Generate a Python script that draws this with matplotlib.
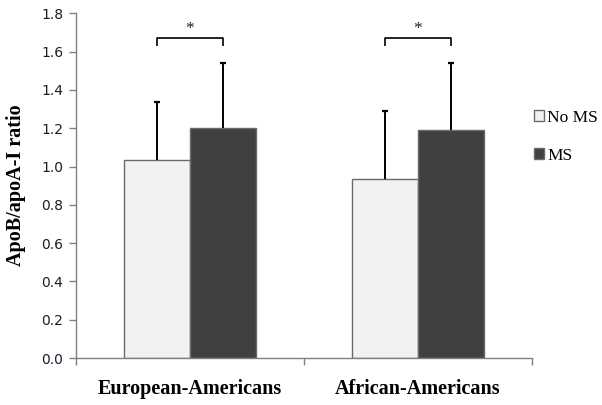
import matplotlib
matplotlib.use("Agg")
import matplotlib.pyplot as plt
import numpy as np

# data
groups = ["European-Americans", "African-Americans"]
series = ["No MS", "MS"]
no_ms_mean = [1.035, 0.935]
no_ms_sd = [0.30, 0.355]
ms_mean = [1.20, 1.19]
ms_sd = [0.34, 0.35]
yticks = [0.0, 0.2, 0.4, 0.6, 0.8, 1.0, 1.2, 1.4, 1.6, 1.8]
bracket_top = [1.67, 1.67]
bracket_leg = [1.63, 1.63]
star_y = [1.72, 1.72]

LIGHT = "#f2f2f2"
DARK = "#404040"
EDGE = "#6a6a6a"
SERIF = ["Liberation Serif", "DejaVu Serif"]

fig = plt.figure(figsize=(6.02, 4.05), dpi=100)
ax = fig.add_axes([76 / 602, 1 - 358 / 405, (532 - 76) / 602, (358 - 13.3) / 405])

x = np.arange(len(groups))
bw = 0.29
cap = 0.013

b1 = ax.bar(x - bw / 2, no_ms_mean, bw, color=LIGHT, edgecolor=EDGE, linewidth=1.0,
            label=series[0], zorder=2)
b2 = ax.bar(x + bw / 2, ms_mean, bw, color=DARK, edgecolor=EDGE, linewidth=1.0,
            label=series[1], zorder=2)

# upper-only error bars
for pos, mean, sd in [(x - bw / 2, no_ms_mean, no_ms_sd), (x + bw / 2, ms_mean, ms_sd)]:
    top = np.array(mean) + np.array(sd)
    ax.vlines(pos, mean, top, color="black", lw=1.4, zorder=3)
    ax.hlines(top, pos - cap, pos + cap, color="black", lw=1.6, zorder=3)

# significance brackets
for i in range(len(groups)):
    xl, xr = x[i] - bw / 2, x[i] + bw / 2
    ax.plot([xl, xl, xr, xr], [bracket_leg[i], bracket_top[i], bracket_top[i], bracket_leg[i]],
            color="black", lw=1.2, solid_capstyle="butt", clip_on=False)
    ax.text(x[i], star_y[i], "*", ha="center", va="center", fontsize=12.5,
            family=SERIF, color="#222222")

ax.set_xlim(-0.5, len(groups) - 0.5)
ax.set_ylim(0, 1.8)
ax.set_yticks(yticks)
ax.set_yticklabels([f"{v:.1f}" for v in yticks], fontsize=10, color="#221a2a")
ax.tick_params(axis="y", length=5, width=1, color="#808080", pad=4)

ax.set_xticks(x)
ax.set_xticklabels(groups, fontsize=14.5, fontweight="bold", family=SERIF)
ax.tick_params(axis="x", which="major", length=0, pad=15)
ax.set_xticks(np.arange(len(groups) + 1) - 0.5, minor=True)
ax.tick_params(axis="x", which="minor", length=5, width=1, color="#808080")

for side in ["top", "right"]:
    ax.spines[side].set_visible(False)
for side in ["left", "bottom"]:
    ax.spines[side].set_color("#808080")
    ax.spines[side].set_linewidth(1.0)

ax.set_ylabel("ApoB/apoA-I ratio", fontsize=14.5, fontweight="bold", family=SERIF,
              labelpad=11)

ax.legend(handles=[b1, b2], loc="upper left", bbox_to_anchor=(534 / 602, 1 - 110 / 405),
          bbox_transform=fig.transFigure, frameon=False, handlelength=0.6, handleheight=0.6,
          handletextpad=0.15, labelspacing=1.25, borderaxespad=0, borderpad=0,
          prop={"family": SERIF, "size": 12.5})

fig.savefig("out.png", dpi=100)
